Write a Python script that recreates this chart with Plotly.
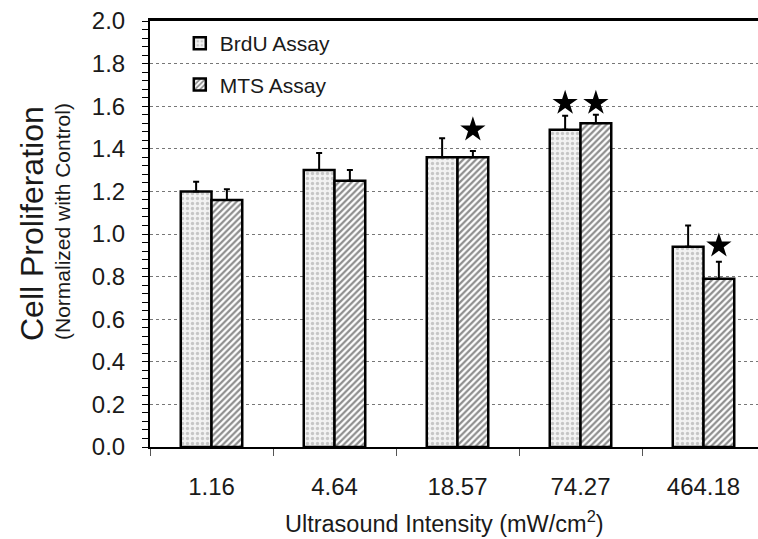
import plotly.graph_objects as go

categories = ["1.16", "4.64", "18.57", "74.27", "464.18"]
brdu = [1.20, 1.30, 1.36, 1.49, 0.94]
brdu_err = [0.045, 0.08, 0.09, 0.065, 0.10]
mts = [1.16, 1.25, 1.36, 1.52, 0.79]
mts_err = [0.05, 0.05, 0.03, 0.04, 0.08]
y_ticks = [0.0, 0.2, 0.4, 0.6, 0.8, 1.0, 1.2, 1.4, 1.6, 1.8, 2.0]

# significance stars: (category index, series offset sign, y position)
star_idx = [2, 3, 3, 4]
star_side = [1, -1, 1, 1]
star_y = [1.49, 1.615, 1.615, 0.945]

FONT = "Arial, Liberation Sans, sans-serif"
W, H = 758, 539
L, R, T, B = 150, 0, 21, 92
PW, PH = W - L - R, H - T - B

fig = go.Figure()
fig.add_trace(go.Bar(
    x=categories, y=brdu, name="BrdU Assay", legendgroup="a",
    marker=dict(color="white", line=dict(color="black", width=2.5),
                pattern=dict(shape=".", fgcolor="#9a9a9a", bgcolor="#f2f2f2", size=5, solidity=0.35)),
    error_y=dict(type="data", symmetric=False, array=brdu_err, arrayminus=[0]*5,
                 color="black", thickness=2, width=3),
))
fig.add_trace(go.Bar(
    x=categories, y=mts, name="MTS Assay", legendgroup="b",
    marker=dict(color="white", line=dict(color="black", width=2.5),
                pattern=dict(shape="/", fgcolor="#1e1e1e", bgcolor="white", size=4.5, solidity=0.5)),
    error_y=dict(type="data", symmetric=False, array=mts_err, arrayminus=[0]*5,
                 color="black", thickness=2, width=3),
))
fig.add_trace(go.Scatter(
    x=[i + s * 0.125 for i, s in zip(star_idx, star_side)], y=star_y,
    mode="markers", xaxis="x2", showlegend=False,
    marker=dict(symbol="star", size=19, color="black"),
    hoverinfo="skip",
))

xr = [-0.5, -0.5 + PW / 123.0]
fig.update_layout(
    width=W, height=H,
    margin=dict(l=L, r=R, t=T, b=B, autoexpand=False),
    paper_bgcolor="white", plot_bgcolor="white",
    font=dict(family=FONT, color="#1a1a1a", size=24),
    barmode="group", bargap=0.5, bargroupgap=0,
    showlegend=True,
    legend=dict(x=0.049, y=0.995, xanchor="left", yanchor="top",
                font=dict(size=21, color="#1a1a1a"), tracegroupgap=11,
                bgcolor="rgba(0,0,0,0)", itemwidth=30),
    xaxis=dict(type="category", range=xr, showgrid=False, zeroline=False, automargin=False,
               showline=True, linecolor="black", linewidth=2,
               ticks="outside", tickson="boundaries", ticklen=7, tickcolor="#555555",
               tickwidth=1, ticklabelstandoff=17, tickfont=dict(size=24)),
    xaxis2=dict(overlaying="x", side="top", range=xr, showgrid=False, zeroline=False,
                showticklabels=False, ticks="", showline=True, linecolor="black", linewidth=3),
    yaxis=dict(range=[0, 2.0], tickvals=y_ticks, ticktext=[f"{v:.1f}" for v in y_ticks],
               automargin=False,
               showgrid=True, gridcolor="#777777", griddash="dot", gridwidth=1,
               zeroline=False, showline=True, linecolor="black", linewidth=2,
               ticks="outside", ticklen=6, tickcolor="black", tickwidth=1,
               ticklabelstandoff=12, tickfont=dict(size=24),
               minor=dict(dtick=0.04, ticks="outside", ticklen=6, tickcolor="black",
                          tickwidth=1, showgrid=False)),
    annotations=[
        dict(text="Cell Proliferation", textangle=-90, xref="paper", yref="paper",
             x=(32 - L) / PW, y=(447 - 224) / PH, xanchor="center", yanchor="middle",
             showarrow=False, font=dict(size=32, color="#1a1a1a")),
        dict(text="(Normalized with Control)", textangle=-90, xref="paper", yref="paper",
             x=(62 - L) / PW, y=(447 - 222) / PH, xanchor="center", yanchor="middle",
             showarrow=False, font=dict(size=21, color="#1a1a1a")),
        dict(text="Ultrasound Intensity (mW/cm<sup>2</sup>)", xref="paper", yref="paper",
             x=(444 - L) / PW, y=-(522 - 447) / PH,
             xanchor="center", yanchor="middle", showarrow=False,
             font=dict(size=23.5, color="#1a1a1a")),
    ],
)
fig.write_html("out.html", config={"displayModeBar": False},
               post_script="document.body.style.margin='0';")
